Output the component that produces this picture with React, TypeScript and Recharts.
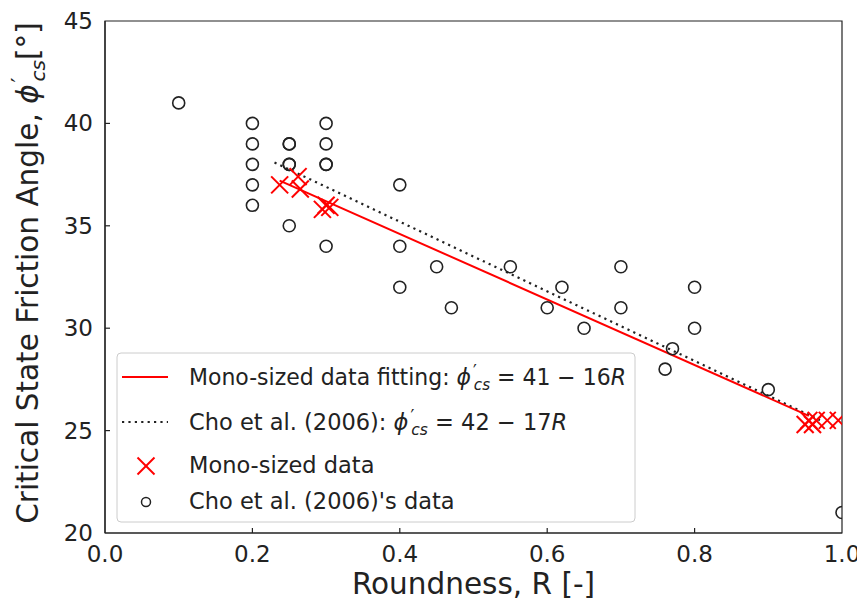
import React from "react";
import {
  ComposedChart,
  Scatter,
  Line,
  XAxis,
  YAxis,
  ReferenceArea,
} from "recharts";

// Cho et al. (2006) measurements: roundness R and critical state friction angle (deg)
const choRoundness = [
  0.1,
  0.2, 0.2, 0.2, 0.2, 0.2,
  0.25, 0.25, 0.25, 0.25, 0.25,
  0.3, 0.3, 0.3, 0.3, 0.3,
  0.4, 0.4, 0.4,
  0.45, 0.47, 0.55, 0.6, 0.62, 0.65,
  0.7, 0.7, 0.76, 0.77, 0.8, 0.8, 0.9, 1.0,
];
const choAngle = [
  41,
  40, 39, 38, 37, 36,
  39, 39, 38, 38, 35,
  40, 39, 38, 38, 34,
  37, 34, 32,
  33, 31, 33, 31, 32, 30,
  33, 31, 28, 29, 32, 30, 27, 21,
];

// Mono-sized sample measurements
const monoRoundness = [0.237, 0.262, 0.265, 0.295, 0.3, 0.305, 0.95, 0.955, 0.96, 0.965, 0.98, 0.995];
const monoAngle = [37.0, 37.4, 36.8, 35.8, 36.0, 35.9, 25.3, 25.5, 25.3, 25.5, 25.5, 25.5];

// Fit lines (endpoints of phi = 41 - 16R and phi = 42 - 17R)
const monoFitR = [0.237, 0.955];
const monoFitPhi = [37.21, 25.72];
const choFitR = [0.23, 0.97];
const choFitPhi = [38.09, 25.51];

const xTicks = [0, 0.2, 0.4, 0.6, 0.8, 1.0];
const yTicks = [20, 25, 30, 35, 40, 45];

const choData = choRoundness.map((x, i) => ({ x, y: choAngle[i] }));
const monoData = monoRoundness.map((x, i) => ({ x, y: monoAngle[i] }));
const monoFit = monoFitR.map((x, i) => ({ x, y: monoFitPhi[i] }));
const choFit = choFitR.map((x, i) => ({ x, y: choFitPhi[i] }));

const FONT = "'DejaVu Sans', sans-serif";
const TEXT = "#222";

const XTick = (props: any) => {
  const { x, y, payload } = props;
  const v = payload.value as number;
  return (
    <g>
      {v > 0 && v < 1 && (
        <line x1={x} x2={x} y1={y} y2={y - 5} stroke="#222" strokeWidth={1.2} />
      )}
      <text x={x} y={y + 29} textAnchor="middle" fontSize={23} fontFamily={FONT} fill={TEXT}>
        {v.toFixed(1)}
      </text>
    </g>
  );
};

const YTick = (props: any) => {
  const { x, y, payload } = props;
  const v = payload.value as number;
  return (
    <g>
      {v > 20 && v < 45 && (
        <line x1={x} x2={x + 5} y1={y} y2={y} stroke="#222" strokeWidth={1.2} />
      )}
      <text x={x - 12} y={y + 8} textAnchor="end" fontSize={23} fontFamily={FONT} fill={TEXT}>
        {v}
      </text>
    </g>
  );
};

const Ring = (props: any) => {
  const { cx, cy } = props;
  if (cx == null || cy == null) return null;
  return <circle cx={cx} cy={cy} r={6} fill="none" stroke="#222" strokeWidth={1.6} />;
};

const Cross = (props: any) => {
  const { cx, cy } = props;
  if (cx == null || cy == null) return null;
  const s = 8.5;
  return (
    <g stroke="#ff0000" strokeWidth={2}>
      <line x1={cx - s} y1={cy - s} x2={cx + s} y2={cy + s} />
      <line x1={cx - s} y1={cy + s} x2={cx + s} y2={cy - s} />
    </g>
  );
};

const XLabel = () => (
  <text x={465.5} y={586} textAnchor="middle" fontSize={29.5} fontFamily={FONT} fill={TEXT}>
    Roundness, R [-]
  </text>
);

const YLabel = () => (
  <text
    x={30}
    y={265}
    transform="rotate(-90, 30, 265)"
    textAnchor="middle"
    fontSize={29.5}
    fontFamily={FONT}
    fill={TEXT}
    style={{ whiteSpace: "pre" }}
  >
    Critical State Friction Angle,{" "}
    <tspan fontStyle="italic">ϕ</tspan>
    <tspan fontSize={22} dx={2} dy={-11}>′</tspan>
    <tspan fontSize={20} fontStyle="italic" dx={-4} dy={18}>cs</tspan>
    <tspan dy={-7}>[°]</tspan>
  </text>
);

const Formula = ({ a, b }: { a: string; b: string }) => (
  <>
    <tspan fontStyle="italic">ϕ</tspan>
    <tspan fontSize={17} dx={2} dy={-8}>′</tspan>
    <tspan fontSize={15.5} fontStyle="italic" dx={-3} dy={13}>cs</tspan>
    <tspan dy={-5}>{` = ${a} − ${b}`}</tspan>
    <tspan fontStyle="italic">R</tspan>
  </>
);

const LegendBox = () => (
  <svg
    width={857}
    height={598}
    style={{ position: "absolute", left: 0, top: 0, pointerEvents: "none" }}
  >
    <rect x={109} y={345} width={518} height={169} rx={4} fill="rgba(255,255,255,0.85)" stroke="#cccccc" strokeWidth={1} />
    <g fontFamily={FONT} fontSize={22.5} fill={TEXT} style={{ whiteSpace: "pre" }}>
      <line x1={114} x2={160} y1={369} y2={369} stroke="#ff0000" strokeWidth={2} />
      <text x={181} y={377} textLength={437} lengthAdjust="spacingAndGlyphs">
        {"Mono-sized data fitting: "}
        <Formula a="41" b="16" />
      </text>
      <line x1={114} x2={160} y1={414} y2={414} stroke="#222" strokeWidth={2.2} strokeDasharray="2.2 4.2" />
      <text x={181} y={422}>
        {"Cho et al. (2006): "}
        <Formula a="42" b="17" />
      </text>
      <g stroke="#ff0000" strokeWidth={2}>
        <line x1={129.5} y1={449.5} x2={146.5} y2={466.5} />
        <line x1={129.5} y1={466.5} x2={146.5} y2={449.5} />
      </g>
      <text x={181} y={465}>Mono-sized data</text>
      <circle cx={138} cy={494} r={4.5} fill="none" stroke="#222" strokeWidth={1.5} />
      <text x={181} y={501}>Cho et al. (2006)'s data</text>
    </g>
  </svg>
);

export default function App() {
  return (
    <div style={{ position: "relative", width: 857, height: 598, fontFamily: FONT }}>
      <ComposedChart
        width={857}
        height={598}
        margin={{ top: 13, right: 23, bottom: 0, left: 0 }}
      >
        <XAxis
          type="number"
          dataKey="x"
          domain={[0, 1]}
          ticks={xTicks}
          height={73}
          tickSize={0}
          tickMargin={0}
          tick={<XTick />}
          axisLine={{ stroke: "#222", strokeWidth: 1.2 }}
          allowDataOverflow
          label={{ content: () => <XLabel /> }}
        />
        <YAxis
          type="number"
          dataKey="y"
          domain={[20, 45]}
          ticks={yTicks}
          width={97}
          tickSize={0}
          tickMargin={0}
          tick={<YTick />}
          axisLine={{ stroke: "#222", strokeWidth: 1.2 }}
          allowDataOverflow
          label={{ content: () => <YLabel /> }}
        />
        <ReferenceArea
          x1={0}
          x2={1}
          y1={20}
          y2={45}
          fill="none"
          fillOpacity={0}
          stroke="#222"
          strokeWidth={1.2}
          ifOverflow="visible"
        />
        <Scatter data={choData} shape={<Ring />} isAnimationActive={false} />
        <Line
          data={choFit}
          dataKey="y"
          stroke="#222"
          strokeWidth={2.2}
          strokeDasharray="2.2 4.2"
          dot={false}
          activeDot={false}
          isAnimationActive={false}
        />
        <Line
          data={monoFit}
          dataKey="y"
          stroke="#ff0000"
          strokeWidth={2}
          dot={false}
          activeDot={false}
          isAnimationActive={false}
        />
        <Scatter data={monoData} shape={<Cross />} isAnimationActive={false} />
      </ComposedChart>
      <LegendBox />
    </div>
  );
}
